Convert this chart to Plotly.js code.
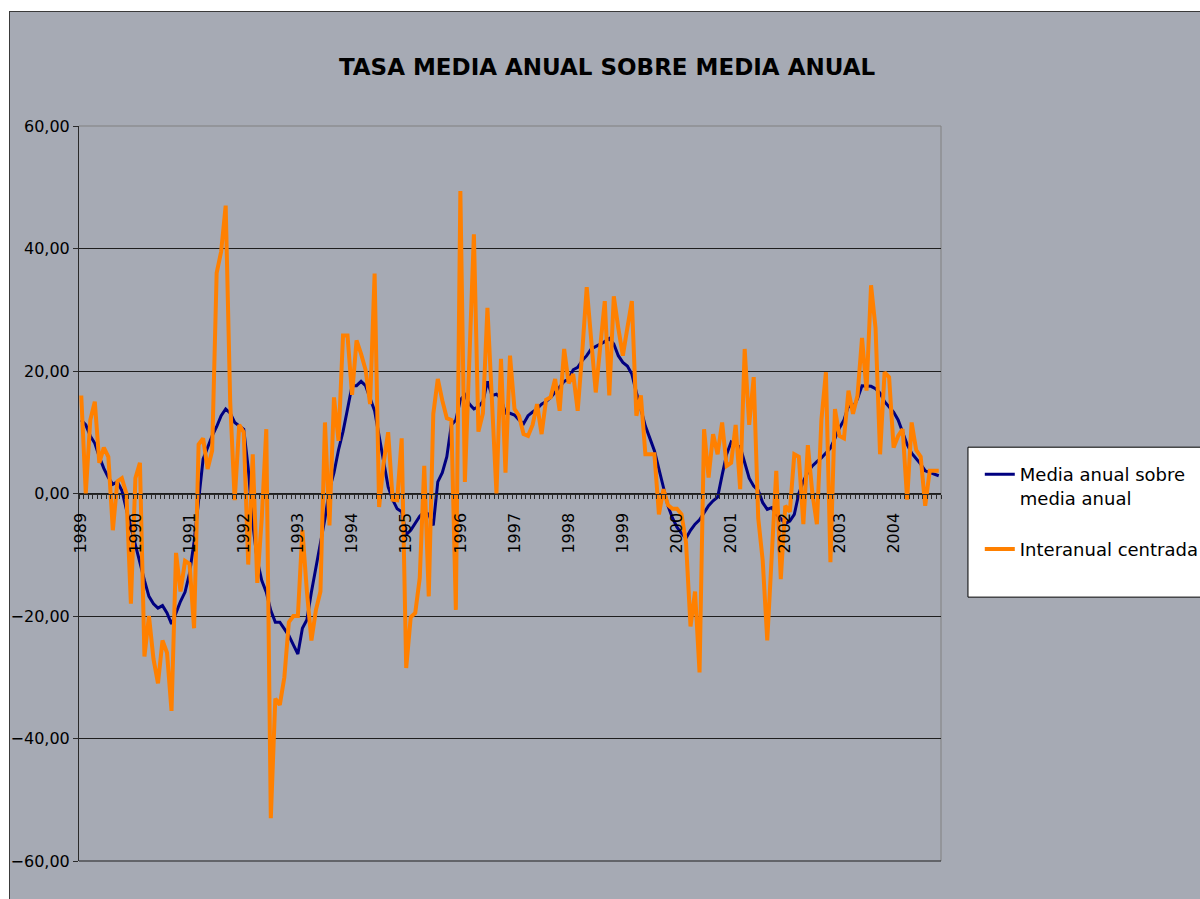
<!DOCTYPE html>
<html>
<head>
<meta charset="utf-8">
<script src="https://cdn.plot.ly/plotly-3.0.1.min.js"></script>
<style>
html,body{margin:0;padding:0;background:#ffffff;overflow:hidden;width:1200px;height:899px;}
#frame{position:absolute;left:9px;top:11px;width:1200px;height:900px;border-left:1px solid #3a3a3a;border-top:1px solid #3a3a3a;background:#a6aab4;}
#chart{position:absolute;left:0;top:0;width:1190px;height:887px;}
</style>
</head>
<body>
<div id="frame"><div id="chart"></div></div>
<script>
// Year tick labels (category axis: monthly data, Jan 1989 - Nov 2004)
const years = ['1989','1990','1991','1992','1993','1994','1995','1996','1997','1998','1999','2000','2001','2002','2003','2004'];

// Series 1: Media anual sobre media anual (monthly)
const mediaAnual = [
  12.0, 11.2, 9.4, 8.2, 6.0, 4.1, 2.6, 1.5, 1.9, 0.5, -2.6, -5.6,
  -8.6, -11.2, -14.2, -16.8, -18.0, -18.7, -18.3, -19.5, -21.3, -19.5, -17.6, -16.1,
  -13.0, -7.9, -1.0, 5.6, 7.5, 9.4, 10.9, 12.7, 13.8, 13.1, 11.6, 11.0,
  10.5, 4.1, -4.9, -10.9, -14.2, -16.1, -19.1, -21.0, -21.0, -22.1, -23.2, -24.7,
  -26.2, -22.0, -20.6, -16.1, -12.0, -8.2, -4.1, 0.7, 3.4, 7.1, 10.1, 13.8,
  17.6, 17.6, 18.3, 17.6, 15.7, 13.5, 9.4, 4.9, 1.1, -1.0, -2.5, -3.0,
  -6.7, -6.0, -4.9, -3.7, -3.0, -3.4, -5.2, 1.9, 3.4, 6.0, 11.2, 12.0,
  15.3, 16.1, 14.6, 13.8, 14.2, 15.0, 18.3, 16.0, 16.2, 15.5, 13.1, 13.1,
  12.8, 12.0, 11.4, 12.7, 13.3, 13.8, 14.6, 15.0, 15.7, 16.5, 17.4, 18.3,
  18.7, 20.2, 20.6, 21.7, 22.5, 23.6, 24.0, 24.3, 24.8, 25.3, 24.4, 22.5,
  21.4, 20.8, 19.5, 16.5, 13.5, 11.0, 9.0, 7.0, 4.0, 1.0, -2.0, -4.0,
  -5.5, -6.5, -7.3, -6.0, -5.0, -4.3, -3.2, -2.0, -1.2, -0.6, 3.0, 6.4,
  8.4, 7.9, 7.6, 5.0, 2.5, 1.2, 0.5, -1.5, -2.6, -2.3, -3.4, -4.1,
  -4.9, -4.5, -3.4, 0.0, 2.0, 3.5, 4.5, 5.2, 5.8, 6.6, 7.4, 9.0,
  10.7, 12.0, 14.3, 14.0, 15.5, 17.6, 17.6, 17.5, 17.1, 16.4, 15.0, 14.2,
  13.3, 12.0, 10.1, 8.0, 6.6, 5.7, 4.8, 3.7, 3.4, 3.2, 2.9
];

// Series 2: Interanual centrada (monthly)
const interanual = [
  16.0, 0.0, 12.0, 15.0, 5.0, 7.5, 6.0, -6.0, 2.0, 2.5, 0.0, -18.0,
  2.5, 5.0, -26.6, -20.0, -27.0, -31.0, -24.0, -26.0, -35.5, -9.7, -16.0, -11.0,
  -11.5, -22.0, 8.0, 9.0, 4.0, 7.0, 36.0, 39.5, 47.0, 15.0, -1.1, 11.2,
  10.0, -11.6, 6.4, -14.6, -4.0, 10.5, -53.0, -33.5, -34.5, -30.0, -21.0, -20.0,
  -20.0, -6.0, -16.0, -24.0, -19.0, -16.0, 11.6, -5.2, 15.7, 8.6, 25.8, 25.8,
  16.1, 25.0, 22.8, 20.2, 14.6, 35.9, -2.2, 5.0, 10.0, -1.0, -1.1, 9.0,
  -28.5, -20.2, -19.5, -13.8, 4.5, -16.8, 13.0, 18.7, 15.2, 12.3, 12.0, -19.0,
  49.4, 1.9, 22.0, 42.3, 10.1, 13.1, 30.3, 16.0, 0.0, 22.0, 3.4, 22.5,
  13.8, 12.7, 9.7, 9.4, 11.2, 14.6, 9.7, 15.3, 15.7, 18.7, 13.5, 23.6,
  18.0, 19.5, 13.5, 23.0, 33.7, 25.0, 16.5, 24.0, 31.4, 16.0, 32.2, 27.0,
  22.5, 27.0, 31.4, 12.7, 16.0, 6.4, 6.4, 6.4, -3.4, 0.7, -1.9, -2.5,
  -2.5, -3.4, -8.0, -21.7, -16.0, -29.2, 10.5, 2.6, 9.7, 6.4, 11.6, 4.5,
  5.0, 11.2, 0.7, 23.6, 11.2, 19.0, -4.0, -11.0, -24.0, -10.0, 3.7, -14.0,
  -2.0, -3.0, 6.4, 6.0, -5.0, 7.9, 0.0, -5.0, 12.0, 19.8, -11.2, 13.8,
  9.4, 9.0, 16.8, 13.0, 16.0, 25.4, 16.8, 34.0, 27.0, 6.4, 19.8, 19.0,
  7.5, 9.4, 10.5, -1.0, 11.6, 7.1, 6.0, -2.0, 3.7, 3.7, 3.7
];

// Month categories
const monthCategories = [];
years.forEach(y => { for (let m = 1; m <= 12; m++) monthCategories.push(y + '-' + String(m).padStart(2, '0')); });
const months = monthCategories.slice(0, mediaAnual.length);
const xIdx = months.map((m, i) => i);
const janIdx = months.map((m, i) => m.endsWith('-01') ? i : null).filter(v => v !== null);
const janText = janIdx.map(i => months[i].slice(0, 4));
const yTicks = [-60, -40, -20, 0, 20, 40, 60];

const FONT = '"DejaVu Sans", Verdana, sans-serif';

const traces = [
  {x: xIdx, y: mediaAnual, type: 'scatter', mode: 'lines', name: 'Media anual sobre<br>media anual',
   legendgroup: 'a', line: {color: '#000080', width: 3}},
  {x: xIdx, y: interanual, type: 'scatter', mode: 'lines', name: 'Interanual centrada',
   legendgroup: 'b', line: {color: '#ff8000', width: 4}}
];

const layout = {
  width: 1190, height: 887,
  paper_bgcolor: '#a6aab4', plot_bgcolor: '#a6aab4',
  margin: {l: 69, r: 259, t: 114, b: 38, autoexpand: false},
  separators: ',.',
  font: {family: FONT, color: '#000', size: 16},
  title: {text: '<b>TASA MEDIA ANUAL SOBRE MEDIA ANUAL</b>', font: {family: FONT, size: 23, color: '#000'},
          xref: 'container', x: 0.5017, xanchor: 'center', yref: 'container', y: 0.938, yanchor: 'middle'},
  xaxis: {type: 'linear', range: [-0.5, months.length - 0.5], anchor: 'free', position: 0.5,
          showline: true, linecolor: '#2a2a2a', linewidth: 1, showgrid: false, zeroline: false,
          tickmode: 'array', tickvals: janIdx, ticktext: janText, ticks: '', tickangle: -90,
          tickfont: {family: FONT, size: 16, color: '#000'}, ticklabelstandoff: 12,
          minor: {tickmode: 'linear', tick0: -0.5, dtick: 1, ticks: 'outside', ticklen: 4, tickwidth: 1, tickcolor: '#2a2a2a', showgrid: false}},
  yaxis: {range: [-60, 60], tickmode: 'array', tickvals: yTicks, tickformat: '.2f',
          showgrid: true, gridcolor: '#1e1e1e', gridwidth: 1, zeroline: false,
          showline: true, linecolor: '#2a2a2a', linewidth: 1, ticks: 'outside', ticklen: 5, tickcolor: '#2a2a2a',
          tickfont: {family: FONT, size: 16, color: '#000'}},
  shapes: [
    {type: 'line', xref: 'paper', yref: 'paper', x0: 0, x1: 1, y0: 1, y1: 1, line: {color: '#808080', width: 1}, layer: 'between'},
    {type: 'line', xref: 'paper', yref: 'paper', x0: 1, x1: 1, y0: 0, y1: 1, line: {color: '#808080', width: 1}, layer: 'between'},
    {type: 'line', xref: 'paper', yref: 'paper', x0: 0, x1: 1, y0: 0, y1: 0, line: {color: '#1e1e1e', width: 1}, layer: 'between'},
    {type: 'rect', xref: 'paper', yref: 'paper', x0: 1.0313, x1: 1.40, y0: 0.359, y1: 0.563, fillcolor: '#ffffff', line: {color: '#000000', width: 1}, layer: 'below'}
  ],
  showlegend: true,
  legend: {x: 1.045, xanchor: 'left', y: 0.551, yanchor: 'top', bgcolor: 'rgba(0,0,0,0)', borderwidth: 0,
           font: {family: FONT, size: 18, color: '#000'}, valign: 'top', tracegroupgap: 25, itemwidth: 30,
           traceorder: 'grouped'}
};

Plotly.newPlot('chart', traces, layout, {staticPlot: true, displayModeBar: false});
</script>
</body>
</html>
